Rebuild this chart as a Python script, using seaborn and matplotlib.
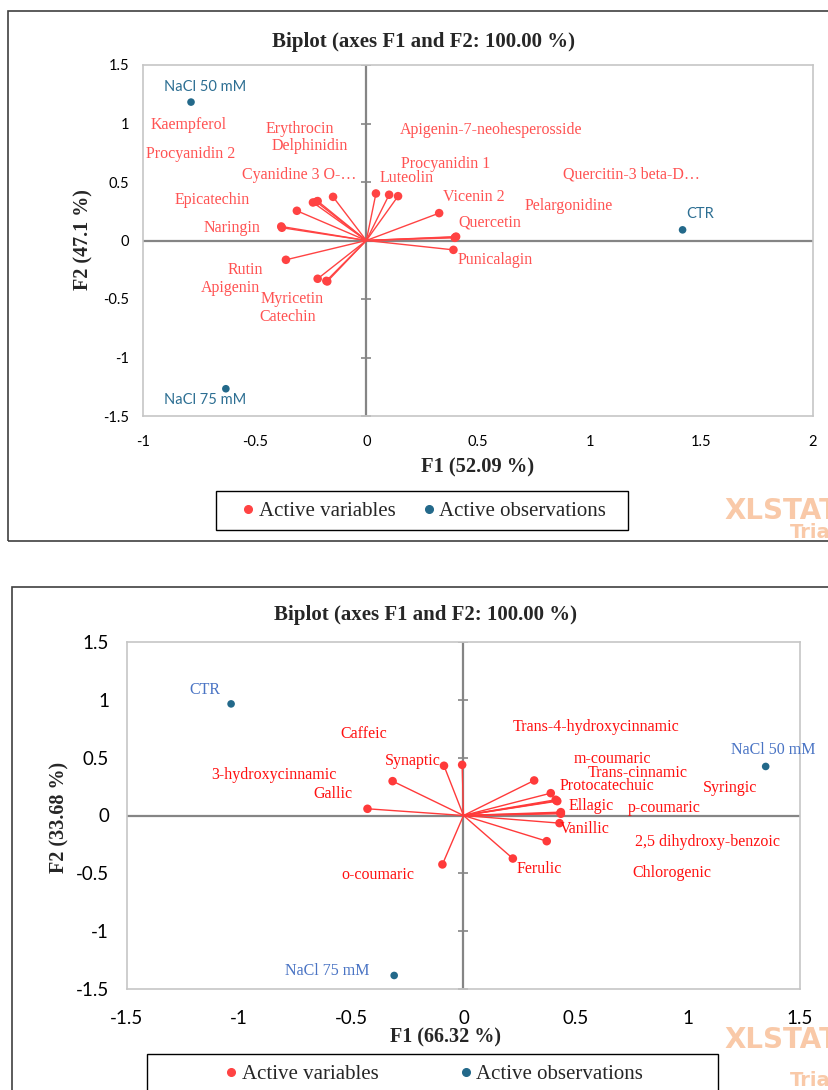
import matplotlib.pyplot as plt
import matplotlib.patches as mpatches
from matplotlib.lines import Line2D
import pandas as pd
import seaborn as sns

# ---- top biplot: flavonoids ----
top_vars = ["Kaempferol", "Naringin", "Epicatechin", "Procyanidin 2", "Erythrocin",
            "Cyanidine 3 O-…", "Delphinidin", "Luteolin", "Procyanidin 1",
            "Apigenin-7-neohesperosside", "Vicenin 2", "Quercetin", "Pelargonidine",
            "Quercitin-3 beta-D…", "Punicalagin", "Rutin", "Apigenin", "Myricetin", "Catechin"]
top_var_x = [-0.381, -0.378, -0.311, -0.239, -0.224, -0.218, -0.149, 0.043, 0.102,
             0.142, 0.326, 0.399, 0.402, 0.396, 0.390, -0.360, -0.218, -0.179, -0.175]
top_var_y = [0.120, 0.109, 0.254, 0.325, 0.331, 0.337, 0.373, 0.402, 0.391,
             0.379, 0.234, 0.029, 0.033, 0.023, -0.080, -0.165, -0.327, -0.345, -0.350]
top_lab_x = [-0.966, -0.730, -0.860, -0.988, -0.450, -0.555, -0.426, 0.060, 0.157,
             0.152, 0.342, 0.411, 0.710, 0.880, 0.407, -0.622, -0.741, -0.475, -0.478]
top_lab_y = [0.989, 0.103, 0.345, 0.738, 0.952, 0.556, 0.809, 0.533, 0.656,
             0.946, 0.371, 0.157, 0.299, 0.562, -0.165, -0.250, -0.402, -0.496, -0.650]
top_obs = ["NaCl 50 mM", "NaCl 75 mM", "CTR"]
top_obs_x = [-0.785, -0.629, 1.416]
top_obs_y = [1.183, -1.267, 0.091]
top_obs_lab_x = [-0.905, -0.905, 1.433]
top_obs_lab_y = [1.316, -1.362, 0.226]
top_xticks = [-1, -0.5, 0, 0.5, 1, 1.5, 2]
top_xticklabels = ["-1", "-0.5", "0", "0.5", "1", "1.5", "2"]
top_yticks = [-1.5, -1, -0.5, 0, 0.5, 1, 1.5]
top_yticklabels = ["-1.5", "-1", "-0.5", "0", "0.5", "1", "1.5"]

# ---- bottom biplot: phenolic acids ----
bot_vars = ["Caffeic", "Synaptic", "3-hydroxycinnamic", "Gallic", "o-coumaric",
            "Trans-4-hydroxycinnamic", "m-coumaric", "Trans-cinnamic", "Protocatechuic",
            "Ellagic", "p-coumaric", "Syringic", "Vanillic", "2,5 dihydroxy-benzoic",
            "Ferulic", "Chlorogenic"]
bot_var_x = [-0.006, -0.087, -0.316, -0.428, -0.094, 0.315, 0.389, 0.411, 0.415,
             0.434, 0.434, 0.432, 0.428, 0.371, 0.220, 0.418]
bot_var_y = [0.438, 0.430, 0.297, 0.058, -0.423, 0.303, 0.193, 0.136, 0.128,
             0.029, 0.015, 0.022, -0.066, -0.222, -0.372, 0.124]
bot_lab_x = [-0.549, -0.352, -1.125, -0.668, -0.545, 0.218, 0.493, 0.554, 0.428,
             0.468, 0.731, 1.065, 0.431, 0.765, 0.238, 0.753]
bot_lab_y = [0.706, 0.475, 0.352, 0.182, -0.512, 0.769, 0.490, 0.366, 0.259,
             0.078, 0.064, 0.237, -0.115, -0.233, -0.461, -0.498]
bot_obs = ["CTR", "NaCl 75 mM", "NaCl 50 mM"]
bot_obs_x = [-1.036, -0.309, 1.347]
bot_obs_y = [0.965, -1.383, 0.424]
bot_obs_lab_x = [-1.220, -0.794, 1.191]
bot_obs_lab_y = [1.086, -1.342, 0.568]
bot_xticks = [-1.5, -1, -0.5, 0, 0.5, 1, 1.5]
bot_xticklabels = ["-1.5", "-1", "-0.5", "0", "0.5", "1", "1.5"]
bot_yticks = [-1.5, -1, -0.5, 0, 0.5, 1, 1.5]
bot_yticklabels = ["-1.5", "-1", "-0.5", "0", "0.5", "1", "1.5"]

sns.set_theme(style="white")
plt.rcParams["font.family"] = ["Liberation Serif", "DejaVu Serif"]

W, H = 829, 1090
fig = plt.figure(figsize=(W / 100, H / 100), dpi=100)


def fx(px):
    return px / W


def fy(py):
    return 1 - py / H


def box(x0, y0, x1, y1, lw=1.2, ec="#404040"):
    # rectangle given in picture pixels (top-left origin)
    fig.add_artist(mpatches.Rectangle((fx(x0), fy(y1)), fx(x1) - fx(x0), fy(y0) - fy(y1),
                                      transform=fig.transFigure, fill=False, ec=ec, lw=lw))


def biplot(ax, vx, vy, names, lx, ly, ox, oy, onames, olx, oly, xt, xtl, yt, ytl,
           var_col, lab_col, obs_col, obs_lab_col, obs_font, obs_fs, tick_fs, xpad, ypad):
    ax.axhline(0, color="#858585", lw=1.6, zorder=1)
    ax.axvline(0, color="#858585", lw=1.6, zorder=1)
    ax.plot([0] * len(yt), yt, ls="none", marker="_", ms=7, mew=1.2, color="#858585", zorder=1)
    for x, y in zip(vx, vy):
        ax.plot([0, x], [0, y], color=var_col, lw=1.0, zorder=2)
    dv = pd.DataFrame({"x": vx, "y": vy})
    do = pd.DataFrame({"x": ox, "y": oy})
    sns.scatterplot(data=dv, x="x", y="y", ax=ax, color=var_col, s=38, edgecolor="none", zorder=3)
    sns.scatterplot(data=do, x="x", y="y", ax=ax, color=obs_col, s=30, edgecolor="none", zorder=3)
    for n, x, y in zip(names, lx, ly):
        ax.text(x, y, n, color=lab_col, fontsize=11.5, ha="left", va="center")
    for n, x, y in zip(onames, olx, oly):
        ax.text(x, y, n, color=obs_lab_col, fontsize=obs_fs, ha="left", va="center",
                family=obs_font)
    ax.set_xlim(xt[0], xt[-1])
    ax.set_ylim(yt[0], yt[-1])
    ax.set_xticks(xt)
    ax.set_xticklabels(xtl, family="Lato", fontsize=tick_fs, color="black")
    ax.set_yticks(yt)
    ax.set_yticklabels(ytl, family="Lato", fontsize=tick_fs, color="black")
    ax.tick_params(length=0)
    ax.tick_params(axis="x", pad=xpad)
    ax.tick_params(axis="y", pad=ypad)
    ax.set_xlabel("")
    ax.set_ylabel("")
    for s in ax.spines.values():
        s.set_color("#c6c6c6")
        s.set_linewidth(1.2)


# outer chart frames
box(8, 11, 900, 541)
box(12, 587, 900, 1200)

ax1 = fig.add_axes([fx(143), fy(416), fx(813) - fx(143), fy(65) - fy(416)])
biplot(ax1, top_var_x, top_var_y, top_vars, top_lab_x, top_lab_y,
       top_obs_x, top_obs_y, top_obs, top_obs_lab_x, top_obs_lab_y,
       top_xticks, top_xticklabels, top_yticks, top_yticklabels,
       "#ff4343", "#ff5252", "#23698a", "#2c6e92", "Lato", 10.5, 10.5, 14, 10)

ax2 = fig.add_axes([fx(127), fy(989), fx(800) - fx(127), fy(642) - fy(989)])
biplot(ax2, bot_var_x, bot_var_y, bot_vars, bot_lab_x, bot_lab_y,
       bot_obs_x, bot_obs_y, bot_obs, bot_obs_lab_x, bot_obs_lab_y,
       bot_xticks, bot_xticklabels, bot_yticks, bot_yticklabels,
       "#ff3a3a", "#ff1010", "#23698a", "#4a74c4", "Liberation Serif", 11.5, 13.5, 15, 13)

# titles and axis titles
title = "Biplot (axes F1 and F2: 100.00 %)"
fig.text(fx(423), fy(42), title, ha="center", va="center", fontsize=15, weight="bold")
fig.text(fx(425), fy(615), title, ha="center", va="center", fontsize=15, weight="bold")
fig.text(fx(478), fy(467), "F1 (52.09 %)", ha="center", va="center", fontsize=14.8, weight="bold")
fig.text(fx(83), fy(240), "F2 (47.1 %)", ha="center", va="center", fontsize=14.5,
         weight="bold", rotation=90)
fig.text(fx(446), fy(1037), "F1 (66.32 %)", ha="center", va="center", fontsize=14.5, weight="bold")
fig.text(fx(59), fy(817), "F2 (33.68 %)", ha="center", va="center", fontsize=14.5,
         weight="bold", rotation=90)

# legends (frames drawn separately to match the wide boxes)
handles = [Line2D([], [], ls="none", marker="o", ms=5.5, color="#ff4343", label="Active variables"),
           Line2D([], [], ls="none", marker="o", ms=5.5, color="#23698a", label="Active observations")]
fig.legend(handles=handles, loc="center", bbox_to_anchor=(fx(424), fy(511)), ncol=2,
           fontsize=15, frameon=False, handlelength=0.6, handletextpad=0.2,
           columnspacing=1.3, borderpad=0.2)
box(216, 491, 628, 530, lw=1.0, ec="black")
fig.legend(handles=handles, loc="center", bbox_to_anchor=(fx(434), fy(1074)), ncol=2,
           fontsize=15, frameon=False, handlelength=0.6, handletextpad=0.2,
           columnspacing=3.9, borderpad=0.2)
box(147, 1054, 718, 1200, lw=1.0, ec="black")

# XLSTAT trial watermark
for yy, ty in [(511, 533), (1040, 1080)]:
    fig.text(fx(724), fy(yy), "XLSTAT", family="DejaVu Sans", weight="bold", fontsize=20,
             color="#f9c9a8", ha="left", va="center")
    fig.text(fx(790), fy(ty), "Trial", family="DejaVu Sans", weight="bold", fontsize=14,
             color="#f9c9a8", ha="left", va="center")

fig.savefig("out.png", dpi=100)
